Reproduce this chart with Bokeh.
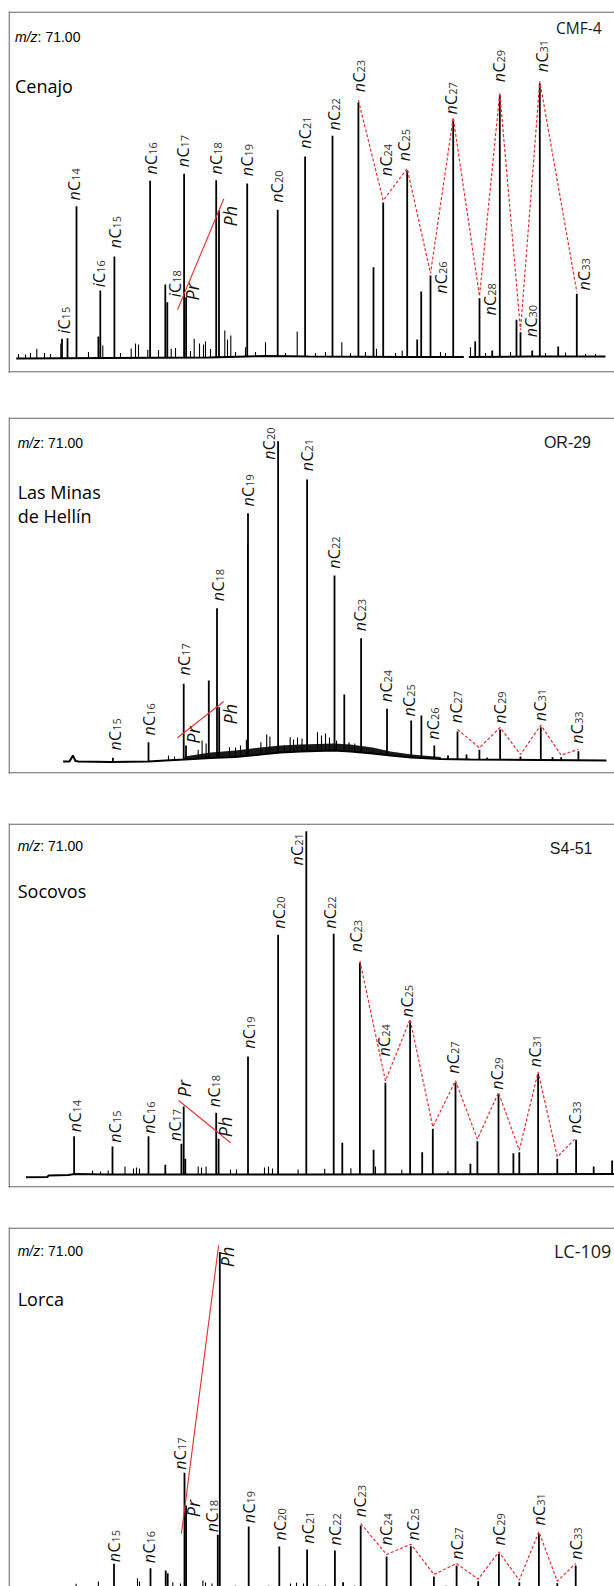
import math
import numpy as np
from bokeh.plotting import figure
from bokeh.layouts import column
from bokeh.core.properties import value
from bokeh.embed import file_html
from bokeh.resources import INLINE

nan = float("nan")

# ====================== DATA (retention time [min], m/z 71 abundance [a.u.]) ======================
site_names = [["Cenajo"], ["Las Minas", "de Hellín"], ["Socovos"], ["Lorca"]]
sample_ids = ["CMF-4", "OR-29", "S4-51", "LC-109"]
ion_label = "71.00"

# ---------- Panel 1: Cenajo, CMF-4
cen_peak_name = ["iC15", "", "nC14", "", "iC16", "nC15", "nC16", "iC18", "", "nC17",
                 "Pr", "nC18", "Ph", "nC19", "nC20", "nC21", "nC22", "nC23", "", "nC24",
                 "nC25", "", "", "nC26", "nC27", "", "nC28", "", "nC29", "",
                 "nC30", "", "nC31", "", "nC33"]
cen_peak_rt = [5.35, 5.90, 6.80, 8.99, 9.18, 10.59, 14.16, 15.68, 15.88, 17.56,
               17.76, 20.77, 21.05, 23.87, 26.92, 29.66, 32.40, 34.99, 36.50, 37.47,
               39.87, 40.87, 41.27, 42.20, 44.47, 46.67, 47.10, 48.37, 49.13, 50.80,
               51.20, 52.37, 53.13, 54.97, 56.83]
cen_peak_ab = [19.2, 19.8, 151.8, 21.5, 67.5, 101.5, 177.2, 73.5, 55.8, 184.2,
               60.8, 177.8, 147.5, 174.5, 148.2, 201.5, 222.2, 255.8, 90.8, 155.5,
               187.5, 18.5, 66.5, 82.5, 238.5, 16.8, 59.8, 7.5, 263.2, 38.2,
               25.8, 7.5, 274.8, 11.5, 64.2]
cen_minor_rt = [1.0, 1.7, 2.2, 2.83, 3.6, 4.2, 5.23, 8.0, 9.43, 11.2,
                12.27, 12.7, 13.0, 13.93, 15.0, 16.27, 16.7, 18.2, 18.57, 19.1,
                19.5, 19.7, 20.2, 21.63, 21.9, 22.23, 22.7, 23.7, 24.7, 25.7,
                27.7, 28.87, 30.7, 31.7, 33.33, 34.2, 35.7, 36.8, 38.7, 39.37,
                43.2, 43.7, 46.2, 47.7, 50.2, 53.7, 55.7, 57.7, 58.7]
cen_minor_ab = [4, 3.5, 5, 9.2, 5, 4, 14.5, 6, 12.5, 5,
                9.5, 14.5, 13.5, 8.2, 8, 9.2, 10, 7, 19.2, 14.5,
                13.5, 16.5, 9, 27.5, 18.5, 22.5, 6, 10.8, 6, 15.8,
                5, 26.5, 5, 6, 15.8, 5, 6, 9.2, 5, 7.5,
                6, 5, 10.8, 5, 6, 5, 5.5, 4, 4]
cen_base_rt = [0.77, 10.0, 20.0, 26.0, 30.0, 40.0, 45.53, nan, 46.03, 52.0, 59.7]
cen_base_ab = [-0.5, 0.0, 0.5, 2.0, 1.5, 1.0, 1.0, nan, 1.0, 1.5, 1.5]
cen_lab_name = ["iC15", "nC14", "iC16", "nC15", "nC16", "iC18", "nC17", "Pr", "nC18", "Ph",
                "nC19", "nC20", "nC21", "nC22", "nC23", "nC24", "nC25", "nC26", "nC27", "nC28",
                "nC29", "nC30", "nC31", "nC33"]
cen_lab_rt = [5.93, 7.02, 9.43, 11.07, 14.68, 17.10, 17.90, 18.85, 21.15, 22.67,
              24.30, 27.27, 30.10, 32.98, 35.43, 38.18, 39.98, 43.68, 44.68, 48.60,
              49.43, 52.68, 53.77, 57.93]
cen_lab_ab = [24.2, 157.5, 70.8, 109.8, 183.5, 60.8, 190.8, 57.5, 183.5, 131.5,
              181.8, 155.2, 209.2, 227.5, 265.8, 181.8, 196.8, 64.2, 243.5, 42.5,
              275.8, 20.8, 285.8, 67.5]
cen_trend = ["nC23", "nC24", "nC25", "nC26", "nC27", "nC28", "nC29", "nC30", "nC31", "nC33"]
cen_prph_rt = [16.90, 21.53]
cen_prph_ab = [48.2, 159.2]

# ---------- Panel 2: Las Minas de Hellín, OR-29
hel_peak_name = ["nC15", "nC16", "nC17", "Pr", "", "nC18", "Ph", "nC19", "nC20", "nC21",
                 "nC22", "", "nC23", "nC24", "nC25", "", "nC26", "", "nC27", "",
                 "nC28", "", "nC29", "nC30", "nC31", "", "nC32", "nC33"]
hel_peak_rt = [10.44, 14.00, 17.52, 17.75, 20.03, 20.85, 21.07, 23.95, 26.96, 29.86,
               32.60, 33.58, 35.26, 37.85, 40.27, 41.29, 42.58, 43.95, 44.90, 45.80,
               47.09, 47.87, 49.16, 51.20, 53.23, 54.40, 55.27, 56.99]
hel_peak_ab = [3.7, 19.3, 77.7, 16.0, 81.0, 153.3, 54.3, 248.3, 320.3, 282.0,
               186.0, 67.0, 123.3, 52.7, 41.0, 46.0, 16.0, 6.0, 30.0, 7.0,
               11.7, 4.0, 32.0, 5.0, 34.3, 4.3, 4.3, 10.3]
hel_minor_rt = [16.0, 16.6, 18.97, 19.36, 19.76, 22.1, 22.7, 23.2, 23.79, 25.24,
                25.82, 26.14, 27.59, 28.17, 28.5, 28.9, 29.35, 30.9, 31.3, 31.7,
                32.1, 32.8, 34.05, 34.63, 36.4, 37.2, 38.8, 43.2, 23.91]
hel_minor_ab = [6, 5, 11.7, 21, 18, 14.3, 14, 16, 21.7, 19.3,
                27, 25, 16, 24.3, 22, 24, 23, 29.3, 26, 28,
                24, 21, 19.3, 18, 11, 10, 7, 4, 218]
hel_base_rt = [5.46, 6.1, 6.44, 6.7, 7.0, 10.2, 14.0, 15.7, 17.6, 20.2, 22.7, 25.2,
               27.2, 29.2, 32.5, 34.2, 36.4, 38.2, 40.3, 43.2, 46.2, 53.2, 59.8]
hel_base_ab = [0, 0, 6, 0.5, 0, -0.5, 0, 1, 2, 3.5, 4.5, 7,
               9, 10, 11, 10, 8, 6, 4, 2.5, 2, 1.5, 1]
hel_band_rt = [17.6, 20.2, 22.7, 25.2, 27.2, 29.2, 32.5, 34.2, 36.4, 38.2, 40.3, 43.2]
hel_band_lo = [2, 3.5, 4.5, 7, 9, 10, 11, 10, 8, 6, 4, 2.5]
hel_band_hi = [5, 9, 11, 14, 16, 17, 18, 17, 14, 10, 7, 4.5]
hel_lab_name = ["nC15", "nC16", "nC17", "Pr", "nC18", "Ph", "nC19", "nC20", "nC21", "nC22",
                "nC23", "nC24", "nC25", "nC26", "nC27", "nC29", "nC31", "nC33"]
hel_lab_rt = [11.05, 14.49, 18.00, 18.93, 21.33, 22.65, 24.39, 26.50, 30.26, 33.00,
              35.62, 38.17, 40.52, 42.90, 45.14, 49.60, 53.58, 57.26]
hel_lab_ab = [11, 26, 86, 17.7, 160.3, 37, 255, 301.7, 290.3, 192.7,
              130.3, 59.3, 45, 21.7, 38.3, 37.7, 40.3, 17.7]
hel_trend = ["nC27", "nC28", "nC29", "nC30", "nC31", "nC32", "nC33"]
hel_prph_rt = [16.90, 21.52]
hel_prph_ab = [23.7, 60.0]

# ---------- Panel 3: Socovos, S4-51
soc_peak_name = ["nC14", "nC15", "nC16", "", "nC17", "Pr", "", "nC18", "Ph", "nC19",
                 "nC20", "nC21", "nC22", "", "nC23", "", "nC24", "nC25", "", "nC26",
                 "nC27", "", "nC28", "nC29", "", "nC30", "nC31", "nC32", "nC33", "",
                 ""]
soc_peak_rt = [6.56, 10.40, 14.00, 15.68, 17.29, 17.52, 17.68, 20.77, 21.01, 23.95,
               26.96, 29.78, 32.52, 33.38, 35.14, 36.51, 37.69, 40.16, 41.37, 42.43,
               44.70, 46.19, 46.89, 49.00, 50.49, 51.08, 52.96, 54.88, 56.76, 58.52,
               60.36]
soc_peak_ab = [38.3, 28.0, 38.3, 9.7, 30.7, 68.0, 15.7, 61.7, 35.7, 118.0,
               239.7, 343.3, 240.7, 31.7, 211.7, 24.7, 91.7, 153.3, 22.3, 45.7,
               91.7, 10.7, 33.3, 80.0, 21.3, 22.3, 100.7, 15.7, 34.7, 8.0,
               14.0]
soc_minor_rt = [8.4, 9.2, 9.97, 11.65, 12.5, 12.8, 13.1, 18.97, 19.3, 19.76,
                22.2, 22.8, 25.6, 26.0, 26.4, 28.96, 31.62, 34.24, 36.7, 39.33, 43.95]
soc_minor_ab = [4, 3, 4, 8, 6, 7, 6, 8, 7, 8,
                5, 5, 7, 8, 6, 5, 5.7, 6.3, 8, 4.7, 3.3]
soc_base_rt = [1.75, 3.9, 4.0, 6.0, 6.6, 10.0, 30.0, 45.0, 60.6]
soc_base_ab = [-2.7, -2.5, -1.0, -0.5, 0.5, 0.0, 0.0, 0.3, 0.5]
soc_lab_name = ["nC14", "nC15", "nC16", "nC17", "Pr", "nC18", "Ph", "nC19", "nC20", "nC21",
                "nC22", "nC23", "nC24", "nC25", "nC27", "nC29", "nC31", "nC33"]
soc_lab_rt = [7.04, 11.04, 14.49, 17.07, 18.10, 20.98, 22.22, 24.47, 27.48, 29.26,
              32.55, 35.19, 37.98, 40.32, 44.87, 49.23, 53.10, 57.04]
soc_lab_ab = [42.3, 31.7, 40.7, 33.3, 77.3, 67.3, 37.3, 125.7, 245.7, 309,
              245.7, 222.3, 118, 157.3, 100.7, 84.7, 107.3, 40.7]
soc_trend = ["nC23", "nC24", "nC25", "nC26", "nC27", "nC28", "nC29", "nC30", "nC31", "nC32", "nC33"]
soc_prph_rt = [17.02, 22.22]
soc_prph_ab = [74.0, 31.7]

# ---------- Panel 4: Lorca, LC-109
lor_peak_name = ["nC15", "nC16", "", "", "nC17", "Pr", "nC18", "Ph", "nC19", "nC20",
                 "nC21", "nC22", "", "nC23", "nC24", "nC25", "nC26", "nC27", "nC28", "nC29",
                 "nC30", "nC31", "nC32", "nC33"]
lor_peak_rt = [10.55, 14.20, 15.72, 15.92, 17.60, 17.76, 20.93, 21.13, 24.02, 27.08,
               29.86, 32.64, 33.46, 35.22, 37.81, 40.23, 42.54, 44.81, 46.97, 49.04,
               51.08, 53.04, 54.88, 56.72]
lor_peak_ab = [24.7, 20.3, 18.0, 15.3, 115.7, 83.0, 53.7, 336.3, 62.0, 42.0,
               39.0, 38.0, 6.3, 63.0, 32.0, 42.3, 12.0, 23.0, 7.3, 34.7,
               6.3, 54.7, 5.3, 23.0]
lor_minor_rt = [6.76, 8.99, 12.9, 13.1, 16.43, 17.2, 19.44, 19.7, 20.35, 22.69,
                26.02, 28.2, 28.8, 29.5, 31.0, 31.7, 34.6, 43.76]
lor_minor_ab = [4.7, 7, 10.3, 7, 6.3, 5, 8, 6, 5, 3,
                3, 5, 6, 5, 3, 3, 3, 3]
lor_base_rt = [0.5, 60.6]
lor_base_ab = [0.0, 0.0]
lor_lab_name = ["nC15", "nC16", "nC17", "Pr", "nC18", "Ph", "nC19", "nC20", "nC21", "nC22",
                "nC23", "nC24", "nC25", "nC27", "nC29", "nC31", "nC33"]
lor_lab_rt = [10.96, 14.49, 17.61, 18.99, 20.75, 22.41, 24.47, 27.59, 30.34, 33.08,
              35.53, 38.13, 40.87, 45.26, 49.49, 53.48, 57.20]
lor_lab_ab = [26.3, 25.3, 118.7, 71.3, 56.3, 321.3, 65.3, 48, 44.7, 43,
              71.3, 43, 48, 28.7, 43, 63, 28.7]
lor_trend = ["nC23", "nC24", "nC25", "nC26", "nC27", "nC28", "nC29", "nC30", "nC31", "nC32", "nC33"]
lor_prph_rt = [17.29, 21.01]
lor_prph_ab = [54.7, 343.0]

# ====================== STYLE / LAYOUT ======================
PAGE_LEFT = 8          # page x of the frame's left edge
FRAME_W = 606
X0, X1 = 0.0, 60.6
RED = "#e62e2e"
BORDER = "#666666"
LBL_FONT = "Open Sans"
MAIN_PX, SUB_PX, PRPH_PX = 16, 11, 18
W_N, W_I, W_C = 9.6, 4.3, 10.1
SUB_DROP, LABEL_DX, PRPH_DX = 2.0, -4.3, -1.0

GEOM = [
    dict(height=395, top=11, bottom=23, y_range=(-14.5, 346.5), frame_top=11, closed=True),
    dict(height=405, top=22, bottom=27, y_range=(-12.0, 344.0), frame_top=417, closed=True),
    dict(height=405, top=23, bottom=18, y_range=(-13.0, 351.0), frame_top=823, closed=True),
    dict(height=381, top=22, bottom=0, y_range=(2.0, 361.0), frame_top=1227, closed=False),
]
TEXTPOS = [
    dict(mz=(14.5, 36), site=(14.5, 85), sid=(601, 27), sid_font="Open Sans", sid_px=15.5),
    dict(mz=(17.2, 442.3), site=(17.2, 491.7), sid=(590.5, 442.3), sid_font="Liberation Sans", sid_px=16),
    dict(mz=(17.2, 845), site=(17.2, 890), sid=(592, 847.7), sid_font="Liberation Sans", sid_px=16),
    dict(mz=(17.2, 1250), site=(17.2, 1298.3), sid=(610.8, 1250), sid_font="Open Sans", sid_px=18),
]
SITE_LINE = 23.3
MZ_W = 22.6


def check(*arrs):
    n = len(arrs[0])
    assert all(len(a) == n for a in arrs), [len(a) for a in arrs]


def build(i, peak_name, peak_rt, peak_ab, minor_rt, minor_ab, base_rt, base_ab,
          lab_name, lab_rt, lab_ab, trend, prph_rt, prph_ab, band=None):
    check(peak_name, peak_rt, peak_ab)
    check(minor_rt, minor_ab)
    check(base_rt, base_ab)
    check(lab_name, lab_rt, lab_ab)
    g = GEOM[i]
    tp = TEXTPOS[i]
    y0, y1 = g["y_range"]
    fh = g["height"] - g["top"] - g["bottom"]
    sx = FRAME_W / (X1 - X0)
    sy = fh / (y1 - y0)

    def to_data(xp, yp):
        return X0 + (xp - PAGE_LEFT) / sx, y1 - (yp - g["frame_top"]) / sy

    p = figure(width=PAGE_LEFT + FRAME_W, height=g["height"], x_range=(X0, X1), y_range=(y0, y1),
               output_backend="svg", toolbar_location=None, title=None,
               x_axis_location=None, y_axis_location=None,
               min_border_left=PAGE_LEFT, min_border_right=0,
               min_border_top=g["top"], min_border_bottom=g["bottom"])
    p.outline_line_color = None
    p.background_fill_color = "white"
    p.border_fill_color = "white"
    p.grid.visible = False

    # panel border: left, top and (except last panel) bottom edges; open on the right
    hx, hy = 0.6 / sx, 0.6 / sy
    bx0 = [X0 + hx, X0 + hx]
    by0 = [y0 - 5, y1 - hy]
    bx1 = [X0 + hx, X1 + 1]
    by1 = [y1 + 5, y1 - hy]
    if g["closed"]:
        bx0.append(X0 - 1); by0.append(y0 + hy); bx1.append(X1 + 1); by1.append(y0 + hy)
    p.segment(x0=bx0, y0=by0, x1=bx1, y1=by1, line_color=BORDER, line_width=1.3)

    # baseline of the trace
    p.line(base_rt, base_ab, line_color="black", line_width=2.0)
    if band is not None:
        p.varea(x=band[0], y1=band[1], y2=band[2], fill_color="black", fill_alpha=0.9)

    br = np.array(base_rt, float)
    ba = np.array(base_ab, float)
    ok = np.isfinite(br)
    foot_m = np.interp(minor_rt, br[ok], ba[ok])
    p.segment(x0=minor_rt, y0=list(foot_m), x1=minor_rt, y1=minor_ab,
              line_color="black", line_width=1.1)
    foot = np.interp(peak_rt, br[ok], ba[ok])
    p.segment(x0=peak_rt, y0=list(foot), x1=peak_rt, y1=peak_ab,
              line_color="black", line_width=1.8)

    # odd/even n-alkane trend (red dashed) and Pr/Ph line (red solid)
    idx = {n: k for k, n in enumerate(peak_name) if n}
    p.line([peak_rt[idx[n]] for n in trend], [peak_ab[idx[n]] + 2.0 / sy for n in trend],
           line_color=RED, line_dash="3 2", line_width=1.2)
    p.line(prph_rt, prph_ab, line_color=RED, line_width=1.1)

    # rotated peak labels
    pre = ([], [], [])
    cee = ([], [], [])
    sub = ([], [], [])
    prph = ([], [], [])
    for n, x, y in zip(lab_name, lab_rt, lab_ab):
        x = x + LABEL_DX / sx
        if n in ("Pr", "Ph"):
            prph[0].append(x + PRPH_DX / sx); prph[1].append(y); prph[2].append(n)
            continue
        prefix, digits = n[0], n[2:]
        wpre = W_N if prefix == "n" else W_I
        pre[0].append(x); pre[1].append(y); pre[2].append(prefix)
        cee[0].append(x); cee[1].append(y + wpre / sy); cee[2].append("C")
        sub[0].append(x + SUB_DROP / sx); sub[1].append(y + (wpre + W_C) / sy); sub[2].append(digits)
    common = dict(angle=math.pi / 2, text_align="left", text_baseline="alphabetic",
                  text_font=value(LBL_FONT))
    p.text(x=pre[0], y=pre[1], text=pre[2], text_font_size=f"{MAIN_PX}px",
           text_font_style="italic", text_color="#111111", **common)
    p.text(x=cee[0], y=cee[1], text=cee[2], text_font_size=f"{MAIN_PX}px",
           text_color="#111111", **common)
    p.text(x=sub[0], y=sub[1], text=sub[2], text_font_size=f"{SUB_PX}px",
           text_color="#333333", **common)
    if prph[0]:
        p.text(x=prph[0], y=prph[1], text=prph[2], text_font_size=f"{PRPH_PX}px",
               text_font_style="italic", text_color="#111111", **common)

    # header texts
    mx, my = to_data(*tp["mz"])
    p.text(x=[mx], y=[my], text=["m/z"], text_font=value("Liberation Sans"),
           text_font_size="14px", text_font_style="italic", text_baseline="middle",
           text_align="left", text_color="black")
    mx2, _ = to_data(tp["mz"][0] + MZ_W, tp["mz"][1])
    p.text(x=[mx2], y=[my], text=[": " + ion_label], text_font=value("Liberation Sans"),
           text_font_size="14px", text_baseline="middle", text_align="left", text_color="black")
    sxp, syp = tp["site"]
    for k, line in enumerate(site_names[i]):
        lx, ly = to_data(sxp, syp + k * SITE_LINE)
        p.text(x=[lx], y=[ly], text=[line], text_font=value("Open Sans"),
               text_font_size="18px", text_baseline="alphabetic", text_align="left",
               text_color="black")
    ix, iy = to_data(*tp["sid"])
    p.text(x=[ix], y=[iy], text=[sample_ids[i]], text_font=value(tp["sid_font"]),
           text_font_size=f"{tp['sid_px']}px", text_baseline="middle", text_align="right",
           text_color="#1a1a1a")
    return p


p1 = build(0, cen_peak_name, cen_peak_rt, cen_peak_ab, cen_minor_rt, cen_minor_ab,
           cen_base_rt, cen_base_ab, cen_lab_name, cen_lab_rt, cen_lab_ab,
           cen_trend, cen_prph_rt, cen_prph_ab)
p2 = build(1, hel_peak_name, hel_peak_rt, hel_peak_ab, hel_minor_rt, hel_minor_ab,
           hel_base_rt, hel_base_ab, hel_lab_name, hel_lab_rt, hel_lab_ab,
           hel_trend, hel_prph_rt, hel_prph_ab,
           band=(hel_band_rt, hel_band_lo, hel_band_hi))
p3 = build(2, soc_peak_name, soc_peak_rt, soc_peak_ab, soc_minor_rt, soc_minor_ab,
           soc_base_rt, soc_base_ab, soc_lab_name, soc_lab_rt, soc_lab_ab,
           soc_trend, soc_prph_rt, soc_prph_ab)
p4 = build(3, lor_peak_name, lor_peak_rt, lor_peak_ab, lor_minor_rt, lor_minor_ab,
           lor_base_rt, lor_base_ab, lor_lab_name, lor_lab_rt, lor_lab_ab,
           lor_trend, lor_prph_rt, lor_prph_ab)

layout = column(p1, p2, p3, p4, spacing=0)
open("out.html", "w").write(file_html(layout, INLINE))
